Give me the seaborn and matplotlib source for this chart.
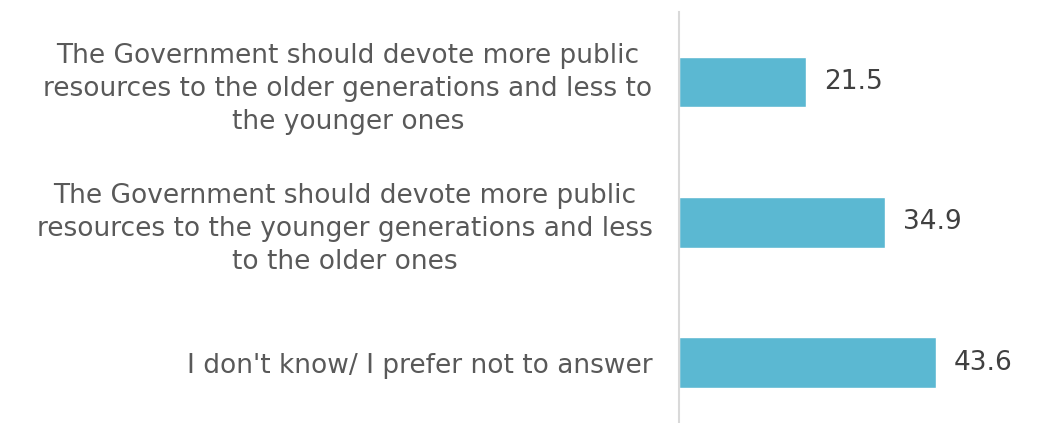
import matplotlib
matplotlib.use("Agg")
import matplotlib.pyplot as plt
import seaborn as sns
import pandas as pd

categories = [
    "The Government should devote more public\nresources to the older generations and less to\nthe younger ones",
    "The Government should devote more public\nresources to the younger generations and less\nto the older ones",
    "I don't know/ I prefer not to answer",
]
values = [21.5, 34.9, 43.6]

sns.set_theme(style="white")
plt.rcParams["font.family"] = ["DejaVu Sans"]

df = pd.DataFrame({"category": categories, "value": values})

fig = plt.figure(figsize=(10.41, 4.23), dpi=100)
ax = fig.add_axes([679 / 1041, 0.0, 362 / 1041, 411 / 423])

sns.barplot(data=df, x="value", y="category", orient="h", color="#5BB8D2",
            saturation=1, width=0.36, ax=ax)

ax.set_xlim(0, 61.4)
ax.set_ylim(2.43, -0.5)
ax.set_xlabel("")
ax.set_ylabel("")
ax.set_xticks([])

for s in ["top", "right", "bottom"]:
    ax.spines[s].set_visible(False)
ax.spines["left"].set_color("#D9D9D9")
ax.spines["left"].set_linewidth(1.5)

ax.tick_params(axis="y", length=0, pad=19, labelsize=19, labelcolor="#595959")
for lab in ax.get_yticklabels():
    lab.set_multialignment("center")
    lab.set_linespacing(1.36)

for c in ax.containers:
    ax.bar_label(c, fmt="%.1f", padding=13, fontsize=19, color="#404040")

fig.savefig("out.png", dpi=100)
